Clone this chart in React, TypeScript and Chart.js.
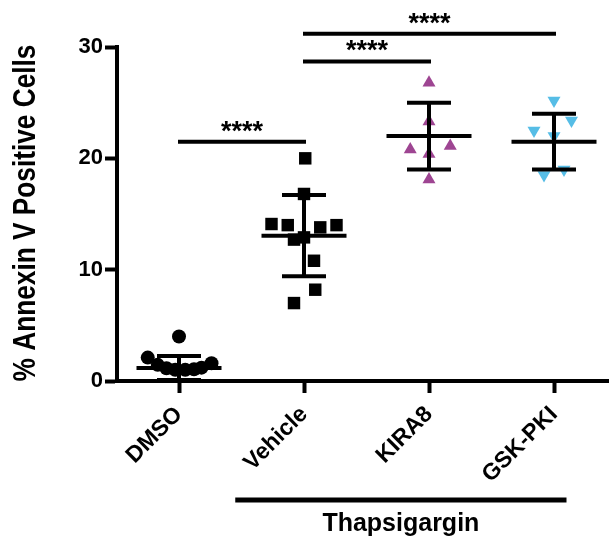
import React, { useEffect, useRef } from 'react';
import { Chart, registerables } from 'chart.js';

Chart.register(...registerables);

// ---- data ----
const categories = ['DMSO', 'Vehicle', 'KIRA8', 'GSK-PKI'];
const yTickValues = [0, 10, 20, 30];

const dmsoValues = [4.0, 2.1, 1.45, 1.15, 1.0, 1.0, 1.05, 1.2, 1.6];
const dmsoOffsets = [0, -0.25, -0.17, -0.1, -0.03, 0.05, 0.12, 0.18, 0.26];

const vehicleValues = [20.0, 16.8, 14.1, 14.0, 13.8, 14.0, 12.9, 12.7, 10.8, 8.2, 7.0];
const vehicleOffsets = [0.01, 0, -0.26, -0.13, 0.13, 0.26, 0, -0.08, 0.08, 0.09, -0.08];

const kira8Values = [26.8, 23.3, 20.8, 21.1, 20.4, 18.1];
const kira8Offsets = [0, 0, -0.15, 0.17, 0, 0];

const gskValues = [25.2, 23.4, 22.5, 22.0, 19.0, 18.5];
const gskOffsets = [0, 0.14, -0.16, 0, 0.08, -0.08];

const groupMeans = [1.17, 13.05, 22.0, 21.5];
const groupSDs = [1.08, 3.65, 3.0, 2.5];

const sigFrom = [0, 1, 1];
const sigTo = [1, 2, 3];
const sigHeights = [21.5, 28.7, 31.2];
const sigLabels = ['****', '****', '****'];

const groupLabel = 'Thapsigargin';
const groupFrom = 0.45;
const groupTo = 3.1;

const yTitle = '% Annexin V Positive Cells';

const FONT = '"Liberation Sans", Arial, Helvetica, sans-serif';

const toPoints = (vals: number[], offs: number[], idx: number) =>
  vals.map((v, i) => ({ x: idx + offs[i], y: v }));

const overlayPlugin = {
  id: 'overlay',
  afterDatasetsDraw(chart: any) {
    const { ctx, chartArea } = chart;
    const x = chart.scales.x;
    const y = chart.scales.y;
    const line = (x1: number, y1: number, x2: number, y2: number) => {
      ctx.beginPath();
      ctx.moveTo(x1, y1);
      ctx.lineTo(x2, y2);
      ctx.stroke();
    };
    ctx.save();
    ctx.strokeStyle = '#000';
    ctx.lineWidth = 4;
    ctx.lineCap = 'butt';
    // mean +/- SD
    groupMeans.forEach((m, i) => {
      const cx = x.getPixelForValue(i);
      const top = y.getPixelForValue(m + groupSDs[i]);
      const bot = y.getPixelForValue(Math.max(0, m - groupSDs[i]));
      const mp = y.getPixelForValue(m);
      const mw = x.getPixelForValue(i + 0.34) - cx;
      const cw = x.getPixelForValue(i + 0.176) - cx;
      line(cx, top, cx, bot);
      line(cx - mw, mp, cx + mw, mp);
      line(cx - cw, top, cx + cw, top);
      line(cx - cw, bot, cx + cw, bot);
    });
    // significance brackets
    ctx.fillStyle = '#000';
    ctx.textAlign = 'center';
    ctx.textBaseline = 'alphabetic';
    ctx.font = `bold 27px ${FONT}`;
    sigFrom.forEach((f, i) => {
      const x1 = x.getPixelForValue(f) - 1;
      const x2 = x.getPixelForValue(sigTo[i]) + 2;
      const yy = y.getPixelForValue(sigHeights[i]);
      line(x1, yy, x2, yy);
      ctx.fillText(sigLabels[i], (x1 + x2) / 2, yy - 2);
    });
    // Thapsigargin group line
    const gx1 = x.getPixelForValue(groupFrom);
    const gx2 = x.getPixelForValue(groupTo);
    const gy = chartArea.bottom + 119;
    ctx.lineWidth = 5;
    line(gx1, gy, gx2, gy);
    ctx.font = `bold 25px ${FONT}`;
    ctx.textBaseline = 'middle';
    ctx.fillText(groupLabel, (gx1 + gx2) / 2, chartArea.bottom + 143);
    // y-axis title (condensed bold, as in the reference)
    ctx.save();
    ctx.translate(26, (chartArea.top + chartArea.bottom) / 2 - 1);
    ctx.rotate(-Math.PI / 2);
    ctx.scale(0.82, 1);
    ctx.font = `bold 32px ${FONT}`;
    ctx.textAlign = 'center';
    ctx.textBaseline = 'middle';
    ctx.fillText(yTitle, 0, 0);
    ctx.restore();
    ctx.restore();
  },
};

export default function App() {
  const canvasRef = useRef<HTMLCanvasElement | null>(null);

  useEffect(() => {
    if (!canvasRef.current) return;
    Chart.defaults.font.family = FONT;
    Chart.defaults.color = '#000';
    const chart = new Chart(canvasRef.current, {
      type: 'scatter',
      data: {
        datasets: [
          {
            label: categories[0],
            data: toPoints(dmsoValues, dmsoOffsets, 0),
            pointStyle: 'circle',
            pointRadius: 7,
            backgroundColor: '#000',
            borderColor: '#000',
            borderWidth: 0,
          },
          {
            label: categories[1],
            data: toPoints(vehicleValues, vehicleOffsets, 1),
            pointStyle: 'rect',
            pointRadius: 8.8,
            backgroundColor: '#000',
            borderColor: '#000',
            borderWidth: 0,
          },
          {
            label: categories[2],
            data: toPoints(kira8Values, kira8Offsets, 2),
            pointStyle: 'triangle',
            pointRadius: 7.5,
            backgroundColor: '#9E4592',
            borderColor: '#9E4592',
            borderWidth: 0,
          },
          {
            label: categories[3],
            data: toPoints(gskValues, gskOffsets, 3),
            pointStyle: 'triangle',
            rotation: 180,
            pointRadius: 7.5,
            backgroundColor: '#56BDE6',
            borderColor: '#56BDE6',
            borderWidth: 0,
          },
        ] as any,
      },
      options: {
        responsive: false,
        animation: false,
        events: [],
        layout: { autoPadding: false, padding: { top: 47, left: 0, right: 0, bottom: 0 } },
        plugins: {
          legend: { display: false },
          tooltip: { enabled: false },
        },
        scales: {
          x: {
            type: 'linear',
            min: -0.496,
            max: 3.44,
            afterBuildTicks: (s: any) => {
              s.ticks = categories.map((_, i) => ({ value: i }));
            },
            afterFit: (s: any) => {
              s.height = 159;
              s.paddingLeft = 0;
              s.paddingRight = 0;
            },
            ticks: {
              autoSkip: false,
              minRotation: 45,
              maxRotation: 45,
              padding: 8,
              color: '#000',
              font: { size: 23, weight: 'bold' },
              callback: (v: any) => categories[v] ?? '',
            },
            grid: {
              drawOnChartArea: false,
              drawTicks: true,
              tickLength: 12,
              tickWidth: 4,
              tickColor: '#000',
            },
            border: { display: true, width: 4, color: '#000' },
          },
          y: {
            min: 0,
            max: 30,
            afterBuildTicks: (s: any) => {
              s.ticks = yTickValues.map((v) => ({ value: v }));
            },
            afterFit: (s: any) => {
              s.width = 117;
              s.paddingTop = 0;
              s.paddingBottom = 0;
            },
            ticks: {
              padding: 2,
              color: '#000',
              font: { size: 22, weight: 'bold' },
            },
            grid: {
              drawOnChartArea: false,
              drawTicks: true,
              tickLength: 12,
              tickWidth: 4,
              tickColor: '#000',
            },
            border: { display: true, width: 4, color: '#000' },
          },
        },
      } as any,
      plugins: [overlayPlugin],
    });
    return () => chart.destroy();
  }, []);

  return (
    <div style={{ position: 'absolute', left: 0, top: 0, width: 609, height: 540, background: '#fff' }}>
      <canvas ref={canvasRef} width={609} height={540} style={{ display: 'block' }} />
    </div>
  );
}
